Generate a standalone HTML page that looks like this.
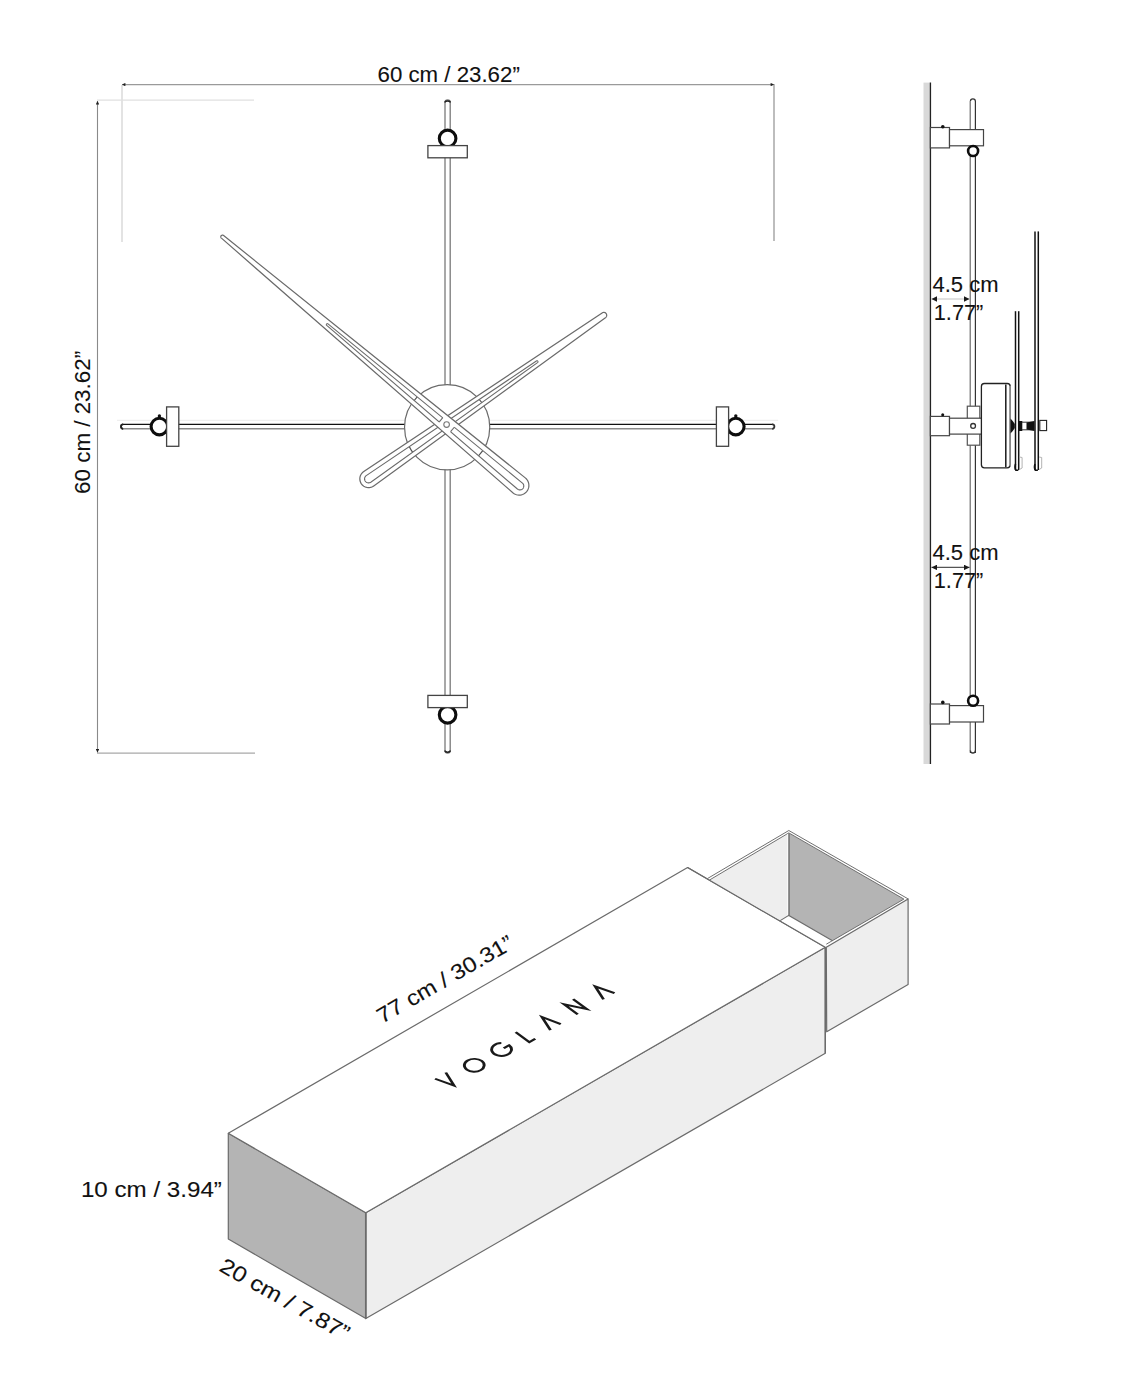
<!DOCTYPE html>
<html><head><meta charset="utf-8"><style>
html,body{margin:0;padding:0;background:#fff;width:1140px;height:1400px;overflow:hidden;position:relative;font-family:"Liberation Sans",sans-serif}
</style></head><body>
<svg width="1140" height="1400" viewBox="0 0 1140 1400" style="position:absolute;left:0;top:0">
<defs>
<marker id="ah" viewBox="0 0 10 10" refX="10" refY="5" markerWidth="5" markerHeight="3.4" orient="auto-start-reverse" markerUnits="userSpaceOnUse"><path d="M0,0 L10,5 L0,10 z" fill="#222"/></marker>
<marker id="ah2" viewBox="0 0 10 10" refX="10" refY="5" markerWidth="6" markerHeight="5.5" orient="auto-start-reverse" markerUnits="userSpaceOnUse"><path d="M0,0 L10,5 L0,10 z" fill="#1a1a1a"/></marker>
</defs>
<g fill="none">
<line x1="122" y1="85" x2="122" y2="242" stroke="#dcdcdc" stroke-width="1.6"/>
<line x1="774" y1="84" x2="774" y2="241" stroke="#9a9a9a" stroke-width="1.3"/>
<line x1="97" y1="100.2" x2="254" y2="100.2" stroke="#e0e0e0" stroke-width="1.3"/>
<line x1="97" y1="753.2" x2="255" y2="753.2" stroke="#a8a8a8" stroke-width="1.2"/>
<line x1="122" y1="84.6" x2="774" y2="84.6" stroke="#9a9a9a" stroke-width="1.1" marker-start="url(#ah)" marker-end="url(#ah)"/>
<line x1="97.5" y1="101" x2="97.5" y2="752.5" stroke="#8a8a8a" stroke-width="1.1" marker-start="url(#ah)" marker-end="url(#ah)"/>
</g>
<path d="M445.0,102.6 A2.6,2.6 0 0 1 450.20000000000005,102.6 L450.20000000000005,750.6 A2.6,2.6 0 0 1 445.0,750.6 Z" fill="#fff" stroke="#7a7a7a" stroke-width="1.3"/>
<line x1="117.0" y1="420.3" x2="778.2" y2="420.3" stroke="#ececec" stroke-width="1"/>
<path d="M123.2,428.8 A2.2,2.2 0 0 1 123.2,424.40000000000003 L772.0,424.40000000000003 A2.2,2.2 0 0 1 772.0,428.8 Z" fill="#fff" stroke="none"/>
<line x1="122.0" y1="424.40000000000003" x2="773.2" y2="424.40000000000003" stroke="#111" stroke-width="1.4"/>
<line x1="122.0" y1="428.8" x2="773.2" y2="428.8" stroke="#8a8a8a" stroke-width="1.5"/>
<path d="M123.0,424.40000000000003 A2.2,2.2 0 0 0 123.0,428.8" fill="none" stroke="#555" stroke-width="1.4"/>
<path d="M772.2,424.40000000000003 A2.2,2.2 0 0 1 772.2,428.8" fill="none" stroke="#333" stroke-width="1.8"/>
<circle cx="447.6" cy="138.40000000000003" r="8.3" fill="#fff" stroke="#0d0d0d" stroke-width="3.1"/>
<rect x="427.90000000000003" y="145.60000000000002" width="39.4" height="12.199999999999989" fill="#fff" stroke="#444" stroke-width="1.3"/>
<circle cx="447.6" cy="714.8" r="8.3" fill="#fff" stroke="#0d0d0d" stroke-width="3.1"/>
<rect x="427.90000000000003" y="695.4000000000001" width="39.4" height="12.199999999999932" fill="#fff" stroke="#444" stroke-width="1.3"/>
<circle cx="159.40000000000003" cy="416.0" r="1.7" fill="#111"/>
<circle cx="159.40000000000003" cy="426.6" r="8.3" fill="#fff" stroke="#0d0d0d" stroke-width="3.1"/>
<rect x="166.60000000000002" y="406.90000000000003" width="12.199999999999989" height="39.4" fill="#fff" stroke="#444" stroke-width="1.3"/>
<circle cx="735.8" cy="416.0" r="1.7" fill="#111"/>
<circle cx="735.8" cy="426.6" r="8.3" fill="#fff" stroke="#0d0d0d" stroke-width="3.1"/>
<rect x="716.4000000000001" y="406.90000000000003" width="12.199999999999932" height="39.4" fill="#fff" stroke="#444" stroke-width="1.3"/>
<path d="M123.2,424.40000000000003 A2.2,2.2 0 0 0 123.2,428.8" fill="none" stroke="#222" stroke-width="1.8"/>
<path d="M445.0,102.6 A2.6,1.6 0 0 1 450.20000000000005,102.6" fill="none" stroke="#222" stroke-width="1.6"/>
<path d="M445.0,750.6 A2.6,1.6 0 0 0 450.20000000000005,750.6" fill="none" stroke="#222" stroke-width="1.6"/>
<circle cx="447.15" cy="427.25" r="42.6" fill="#fff" stroke="#6a6a6a" stroke-width="1.2"/>
<path d="M602.10,312.95 L363.43,471.77 L362.56,472.49 L361.79,473.32 L361.14,474.24 L360.60,475.24 L360.20,476.29 L359.94,477.39 L359.83,478.52 L359.86,479.65 L360.03,480.76 L360.35,481.85 L360.80,482.88 L361.39,483.85 L362.09,484.73 L362.90,485.52 L363.81,486.19 L364.79,486.75 L365.84,487.17 L366.94,487.45 L368.06,487.59 L369.19,487.58 L370.31,487.43 L371.40,487.13 L372.44,486.70 L373.42,486.14 L605.41,317.71 L605.71,317.48 L605.98,317.21 L606.22,316.90 L606.41,316.57 L606.55,316.21 L606.65,315.84 L606.70,315.46 L606.69,315.08 L606.64,314.70 L606.53,314.33 L606.38,313.97 L606.18,313.64 L605.94,313.34 L605.66,313.08 L605.35,312.85 L605.02,312.67 L604.66,312.53 L604.28,312.44 L603.90,312.40 L603.52,312.41 L603.14,312.48 L602.77,312.59 L602.42,312.75 L602.10,312.95Z" fill="#fff" stroke="#6a6a6a" stroke-width="1.2"/>
<clipPath id="clm"><path d="M536.38,360.96 L366.24,475.60 L365.84,475.93 L365.48,476.31 L365.18,476.73 L364.93,477.19 L364.75,477.67 L364.63,478.17 L364.57,478.69 L364.59,479.21 L364.67,479.72 L364.81,480.22 L365.02,480.69 L365.29,481.14 L365.61,481.54 L365.98,481.90 L366.40,482.21 L366.85,482.46 L367.33,482.66 L367.83,482.78 L368.35,482.85 L368.87,482.84 L369.38,482.77 L369.88,482.63 L370.36,482.43 L370.81,482.17 L537.53,362.60 L537.63,362.52 L537.72,362.42 L537.80,362.32 L537.87,362.20 L537.92,362.08 L537.95,361.95 L537.97,361.82 L537.96,361.69 L537.94,361.56 L537.91,361.43 L537.86,361.31 L537.79,361.20 L537.71,361.09 L537.61,361.00 L537.50,360.92 L537.39,360.86 L537.27,360.81 L537.14,360.78 L537.01,360.77 L536.87,360.77 L536.74,360.79 L536.62,360.83 L536.50,360.89 L536.38,360.96Z"/></clipPath>
<circle cx="447.15" cy="427.25" r="42.6" fill="none" stroke="#555" stroke-width="1.2" clip-path="url(#clm)"/>
<path d="M536.38,360.96 L366.24,475.60 L365.84,475.93 L365.48,476.31 L365.18,476.73 L364.93,477.19 L364.75,477.67 L364.63,478.17 L364.57,478.69 L364.59,479.21 L364.67,479.72 L364.81,480.22 L365.02,480.69 L365.29,481.14 L365.61,481.54 L365.98,481.90 L366.40,482.21 L366.85,482.46 L367.33,482.66 L367.83,482.78 L368.35,482.85 L368.87,482.84 L369.38,482.77 L369.88,482.63 L370.36,482.43 L370.81,482.17 L537.53,362.60 L537.63,362.52 L537.72,362.42 L537.80,362.32 L537.87,362.20 L537.92,362.08 L537.95,361.95 L537.97,361.82 L537.96,361.69 L537.94,361.56 L537.91,361.43 L537.86,361.31 L537.79,361.20 L537.71,361.09 L537.61,361.00 L537.50,360.92 L537.39,360.86 L537.27,360.81 L537.14,360.78 L537.01,360.77 L536.87,360.77 L536.74,360.79 L536.62,360.83 L536.50,360.89 L536.38,360.96Z" fill="none" stroke="#6a6a6a" stroke-width="1.1"/>
<path d="M221.44,238.13 L513.12,493.00 L514.14,493.72 L515.25,494.30 L516.43,494.73 L517.65,495.01 L518.89,495.13 L520.15,495.09 L521.38,494.89 L522.58,494.52 L523.72,494.01 L524.79,493.36 L525.76,492.57 L526.63,491.67 L527.37,490.66 L527.97,489.56 L528.43,488.39 L528.74,487.18 L528.88,485.94 L528.86,484.68 L528.69,483.44 L528.35,482.24 L527.86,481.08 L527.23,480.00 L526.46,479.01 L525.58,478.13 L223.62,235.52 L223.44,235.38 L223.24,235.27 L223.04,235.19 L222.82,235.13 L222.59,235.10 L222.37,235.11 L222.15,235.14 L221.93,235.20 L221.72,235.29 L221.53,235.40 L221.35,235.55 L221.20,235.71 L221.06,235.89 L220.96,236.09 L220.88,236.30 L220.82,236.52 L220.80,236.74 L220.81,236.97 L220.85,237.19 L220.91,237.40 L221.00,237.61 L221.13,237.80 L221.27,237.97 L221.44,238.13Z" fill="#fff" stroke="#6a6a6a" stroke-width="1.2"/>
<clipPath id="clh"><path d="M326.72,325.44 L517.41,489.03 L517.83,489.33 L518.27,489.56 L518.75,489.74 L519.24,489.86 L519.74,489.91 L520.25,489.90 L520.75,489.82 L521.23,489.67 L521.70,489.47 L522.13,489.20 L522.52,488.88 L522.87,488.52 L523.17,488.11 L523.42,487.67 L523.60,487.19 L523.72,486.70 L523.78,486.20 L523.77,485.69 L523.70,485.19 L523.56,484.70 L523.36,484.24 L523.10,483.80 L522.78,483.41 L522.42,483.05 L328.00,323.91 L327.90,323.83 L327.78,323.76 L327.66,323.72 L327.53,323.68 L327.40,323.67 L327.27,323.67 L327.14,323.69 L327.01,323.73 L326.89,323.78 L326.78,323.85 L326.68,323.93 L326.58,324.02 L326.51,324.13 L326.44,324.25 L326.40,324.37 L326.37,324.50 L326.35,324.63 L326.36,324.76 L326.38,324.89 L326.41,325.02 L326.47,325.14 L326.54,325.25 L326.62,325.35 L326.72,325.44Z"/></clipPath>
<circle cx="447.15" cy="427.25" r="42.6" fill="none" stroke="#555" stroke-width="1.2" clip-path="url(#clh)"/>
<path d="M326.72,325.44 L517.41,489.03 L517.83,489.33 L518.27,489.56 L518.75,489.74 L519.24,489.86 L519.74,489.91 L520.25,489.90 L520.75,489.82 L521.23,489.67 L521.70,489.47 L522.13,489.20 L522.52,488.88 L522.87,488.52 L523.17,488.11 L523.42,487.67 L523.60,487.19 L523.72,486.70 L523.78,486.20 L523.77,485.69 L523.70,485.19 L523.56,484.70 L523.36,484.24 L523.10,483.80 L522.78,483.41 L522.42,483.05 L328.00,323.91 L327.90,323.83 L327.78,323.76 L327.66,323.72 L327.53,323.68 L327.40,323.67 L327.27,323.67 L327.14,323.69 L327.01,323.73 L326.89,323.78 L326.78,323.85 L326.68,323.93 L326.58,324.02 L326.51,324.13 L326.44,324.25 L326.40,324.37 L326.37,324.50 L326.35,324.63 L326.36,324.76 L326.38,324.89 L326.41,325.02 L326.47,325.14 L326.54,325.25 L326.62,325.35 L326.72,325.44Z" fill="none" stroke="#6a6a6a" stroke-width="1.1"/>
<path d="M438.24,423.07 L449.74,432.71 L455.13,426.27 L443.64,416.64Z" fill="#fff"/>
<line x1="439.08" y1="422.08" x2="442.80" y2="417.63" stroke="#6a6a6a" stroke-width="1.1"/>
<line x1="450.57" y1="431.71" x2="454.30" y2="427.27" stroke="#6a6a6a" stroke-width="1.1"/>
<circle cx="446.6" cy="424.6" r="2.8" fill="#fff" stroke="#777" stroke-width="1.1"/>
<rect x="923.5" y="82.6" width="6" height="681.4" fill="#d9d9d9"/>
<line x1="930.4" y1="82.6" x2="930.4" y2="764" stroke="#222" stroke-width="1.4"/>
<path d="M970.4,101.4 A2.5,2.5 0 0 1 975.4,101.4 L975.4,750.5 A2.5,2.5 0 0 1 970.4,750.5 Z" fill="#fff" stroke="none"/>
<path d="M970.4,753 L970.4,101.4 A2.5,2.5 0 0 1 975.4,101.4 L975.4,753" fill="none" stroke="#333" stroke-width="1.2"/>
<line x1="970.4" y1="101" x2="970.4" y2="751" stroke="#888" stroke-width="1.2"/>
<path d="M970.4,750.5 A2.5,2.5 0 0 0 975.4,750.5" fill="none" stroke="#333" stroke-width="1.3"/>
<rect x="930.4" y="127.5" width="19.1" height="20.400000000000006" fill="#fff" stroke="#444" stroke-width="1.2"/>
<rect x="949.5" y="129.6" width="34" height="16.200000000000017" fill="#fff" stroke="#444" stroke-width="1.2"/>
<circle cx="973.1" cy="151.0" r="5.0" fill="#fff" stroke="#0d0d0d" stroke-width="2.6"/>
<circle cx="942.8" cy="126.8" r="1.8" fill="#111"/>
<rect x="930.4" y="704.0" width="19.1" height="20.0" fill="#fff" stroke="#444" stroke-width="1.2"/>
<rect x="949.5" y="705.6" width="34" height="16.399999999999977" fill="#fff" stroke="#444" stroke-width="1.2"/>
<circle cx="973.1" cy="700.7" r="5.0" fill="#fff" stroke="#0d0d0d" stroke-width="2.6"/>
<circle cx="942.8" cy="702.4" r="1.8" fill="#111"/>
<rect x="967.3" y="406.2" width="12.5" height="39" fill="#fff" stroke="#555" stroke-width="1.2"/>
<rect x="930.4" y="416.4" width="19.1" height="19.3" fill="#fff" stroke="#444" stroke-width="1.2"/>
<rect x="949.5" y="418.2" width="33.8" height="15.9" fill="#fff" stroke="#444" stroke-width="1.2"/>
<circle cx="942.7" cy="414.8" r="1.5" fill="#111"/>
<circle cx="973.1" cy="425.9" r="2.4" fill="none" stroke="#333" stroke-width="1.3"/>
<rect x="983.5" y="423.5" width="2" height="5" fill="#777"/>
<rect x="981.4" y="383.5" width="28.8" height="84.3" rx="3" fill="#fff" stroke="#222" stroke-width="1.3"/>
<line x1="1005.8" y1="384.5" x2="1005.8" y2="467.3" stroke="#1a1a1a" stroke-width="1.5"/>
<line x1="1010.2" y1="386" x2="1010.2" y2="466" stroke="#999" stroke-width="1.2"/>
<path d="M1010.5,418.5 Q1013,421 1014.8,424 L1014.8,428 Q1013,431 1010.5,433.5 Z" fill="#111"/>
<rect x="1018.8" y="421" width="3.5" height="10" fill="#111"/>
<circle cx="1024.6" cy="426" r="1.6" fill="#fff"/>
<line x1="1022" y1="422.2" x2="1034" y2="422.2" stroke="#333" stroke-width="1"/>
<line x1="1022" y1="429.8" x2="1034" y2="429.8" stroke="#333" stroke-width="1"/>
<path d="M1026.5,422.5 L1034.5,421 L1034.5,431 L1026.5,429.5 Z" fill="#111"/>
<rect x="1039.8" y="420.4" width="6.8" height="10.2" fill="#fff" stroke="#222" stroke-width="1.1"/>
<line x1="1015.5" y1="311.2" x2="1015.5" y2="470" stroke="#111" stroke-width="1.5"/>
<line x1="1018.7" y1="311.2" x2="1018.7" y2="470" stroke="#111" stroke-width="1.5"/>
<path d="M1015.5,464 Q1014.3,468 1015.9,470.3 L1018.3000000000001,470.3" fill="none" stroke="#111" stroke-width="1.6"/>
<path d="M1019.5,457 L1022.1,457.5 L1022.1,468 L1019.5,469.5" fill="none" stroke="#aaa" stroke-width="0.9"/>
<line x1="1035.0" y1="231.4" x2="1035.0" y2="470" stroke="#111" stroke-width="1.5"/>
<line x1="1038.3" y1="231.4" x2="1038.3" y2="470" stroke="#111" stroke-width="1.5"/>
<path d="M1035.0,464 Q1033.8,468 1035.4,470.3 L1037.8999999999999,470.3" fill="none" stroke="#111" stroke-width="1.6"/>
<path d="M1039.1,457 L1041.7,457.5 L1041.7,468 L1039.1,469.5" fill="none" stroke="#aaa" stroke-width="0.9"/>
<line x1="931.5" y1="299.0" x2="969.5" y2="299.0" stroke="#c4c4c4" stroke-width="1.1" marker-start="url(#ah2)" marker-end="url(#ah2)"/>
<line x1="931.5" y1="567.4" x2="969.5" y2="567.4" stroke="#555" stroke-width="1.1" marker-start="url(#ah2)" marker-end="url(#ah2)"/>
<polygon points="228.3,1133.3 365.8,1212.8 365.8,1318.6 228.3,1239.0" fill="#b4b4b4" stroke="#6b6b6b" stroke-width="1.2" stroke-linejoin="round"/>
<polygon points="365.8,1212.8 825.3,947.3 825.3,1053.3 365.8,1318.6" fill="#eeeeee" stroke="#6b6b6b" stroke-width="1.2" stroke-linejoin="round"/>
<polygon points="228.3,1133.3 687.6,867.6 825.3,947.3 365.8,1212.8" fill="#ffffff" stroke="#6b6b6b" stroke-width="1.2" stroke-linejoin="round"/>
<line x1="365.8" y1="1212.8" x2="365.8" y2="1318.6" stroke="#6b6b6b" stroke-width="1.7"/>
<polygon points="707.4,878.6 788.8,830.5 908.1,898.9 826.8,946.8" fill="#fff" stroke="none"/>
<polygon points="709.4,880.1 788.8,832.9 788.8,915.4 780.2,920.6" fill="#eeeeee" stroke="none"/>
<polygon points="788.8,832.9 903.9,899.1 832.5,940.8 788.8,915.4" fill="#b4b4b4" stroke="none"/>
<polygon points="780.2,920.6 788.8,915.4 832.5,940.8 825.3,947.3" fill="#fff" stroke="none"/>
<polygon points="826.3,947.3 908.1,898.9 908.1,984.4 826.7,1031.8" fill="#eeeeee" stroke="#6b6b6b" stroke-width="1.2" stroke-linejoin="round"/>
<polyline points="707.4,878.6 788.8,830.5 908.1,898.9" fill="none" stroke="#707070" stroke-width="1.0"/>
<polyline points="709.4,880.1 788.8,832.9 903.9,899.1 826.3,944.2" fill="none" stroke="#707070" stroke-width="1.0"/>
<line x1="789.0999999999999" y1="832.9" x2="789.0999999999999" y2="915.4" stroke="#808080" stroke-width="1.8"/>
<line x1="787.4" y1="833.9" x2="787.4" y2="915.4" stroke="#fafafa" stroke-width="0.9"/>
<polyline points="780.2,920.6 788.8,915.4 832.5,940.8" fill="none" stroke="#6b6b6b" stroke-width="1.1"/>
<line x1="687.6" y1="867.6" x2="825.3" y2="947.3" stroke="#6b6b6b" stroke-width="1.2"/>
<line x1="825.3" y1="947.3" x2="825.3" y2="1053.3" stroke="#6b6b6b" stroke-width="1.4"/>
<text x="377.5" y="81.8" font-family="Liberation Sans, sans-serif" font-size="22.3" textLength="142.3" lengthAdjust="spacingAndGlyphs" fill="#111" stroke="#111" stroke-width="0.1">60 cm / 23.62”</text>
<text transform="translate(90.3,493.9) rotate(-90)" x="0" y="0" font-family="Liberation Sans, sans-serif" font-size="22" textLength="143" lengthAdjust="spacingAndGlyphs" fill="#111" stroke="#111" stroke-width="0.1">60 cm / 23.62”</text>
<text x="932.5" y="291.6" font-family="Liberation Sans, sans-serif" font-size="21.6" textLength="66" lengthAdjust="spacingAndGlyphs" fill="#111" stroke="#111" stroke-width="0.1">4.5 cm</text>
<text x="933.8" y="320.3" font-family="Liberation Sans, sans-serif" font-size="22" textLength="49.5" lengthAdjust="spacingAndGlyphs" fill="#111" stroke="#111" stroke-width="0.1">1.77”</text>
<text x="932.5" y="559.9" font-family="Liberation Sans, sans-serif" font-size="21.6" textLength="66" lengthAdjust="spacingAndGlyphs" fill="#111" stroke="#111" stroke-width="0.1">4.5 cm</text>
<text x="933.8" y="588.3" font-family="Liberation Sans, sans-serif" font-size="22" textLength="49.5" lengthAdjust="spacingAndGlyphs" fill="#111" stroke="#111" stroke-width="0.1">1.77”</text>
<text x="80.9" y="1196.5" font-family="Liberation Sans, sans-serif" font-size="21.8" textLength="141" lengthAdjust="spacingAndGlyphs" fill="#111" stroke="#111" stroke-width="0.1">10 cm / 3.94”</text>
<text transform="translate(382,1024) rotate(-30)" x="0" y="0" font-family="Liberation Sans, sans-serif" font-size="21.5" textLength="153.6" lengthAdjust="spacingAndGlyphs" fill="#111" stroke="#111" stroke-width="0.1">77 cm / 30.31”</text>
<text transform="translate(218.0,1270.2) rotate(29.2)" x="0" y="0" font-family="Liberation Sans, sans-serif" font-size="21.5" textLength="145" lengthAdjust="spacingAndGlyphs" fill="#111" stroke="#111" stroke-width="0.1">20 cm / 7.87”</text>
<g transform="matrix(0.866,-0.5,0.762,0.56,455,1086.2)" fill="none" stroke="#1a1a1a" stroke-width="2.5" stroke-linejoin="miter" stroke-linecap="butt"><path d="M-6.3,-19 L0,-1.2 L6.1,-19"/><circle cx="30.85" cy="-9.8" r="8.6"/><path d="M67.93,-16.39 A8.6,8.6 0 1 0 71.00,-9.80 L64.90,-9.80"/><path d="M86.8,-19 L86.8,-1.1 L93.6,-1.1"/><path d="M111.1,-1 L117.1,-19 L123,-1"/><path d="M142.6,-1 L142.6,-19 L153.1,-1 L153.1,-19"/><path d="M172.4,-1 L178.5,-19 L185.1,-1"/></g>
</svg>
</body></html>
